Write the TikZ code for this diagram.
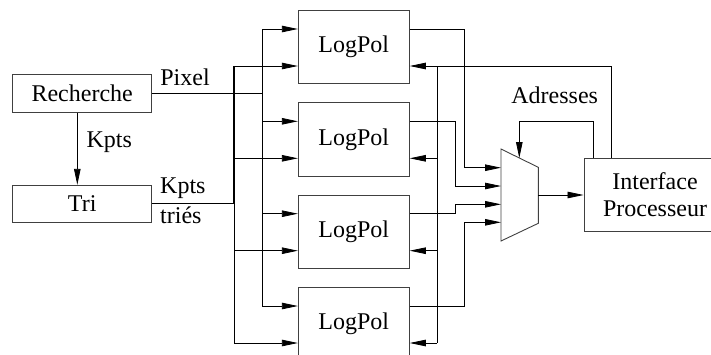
\documentclass[tikz,border=0pt]{standalone}
\usepackage{fontspec}
\setmainfont{Liberation Serif}
\usetikzlibrary{arrows.meta,calc}
\begin{document}
\begin{tikzpicture}[x=1pt,y=-1pt, font=\fontsize{24}{27}\selectfont,
  ln/.style={line width=0.8pt, draw=black},
  arr/.style={ln, -{Triangle[length=16pt,width=6.5pt]}},
  blk/.style={draw=black!75, line width=0.9pt, minimum width=111pt, minimum height=73.4pt, inner sep=0pt},
  sbox/.style={draw=black!75, line width=0.9pt, minimum width=139pt, inner sep=0pt},
  lbl/.style={inner sep=0pt}]
\useasboundingbox (0,0) rectangle (711,354);

% left blocks
\node[sbox, minimum height=37.7pt] (rech) at (82.2,93.2) {Recherche};
\node[sbox, minimum height=37pt] (tri) at (82.2,203.8) {Tri};

% LogPol blocks
\node[blk] (lp1) at (353.8,47) {LogPol};
\node[blk] (lp2) at (353.8,139.3) {LogPol};
\node[blk] (lp3) at (353.8,231.7) {LogPol};
\node[blk] (lp4) at (353.8,324) {LogPol};

% interface
\node[blk, minimum width=142pt, align=center] (ifc) at (655,195) {Interface\\Processeur};

% mux
\draw[draw=black!75, line width=0.9pt] (501,149) -- (538.3,167.3) -- (538.3,223.3) -- (501,241) -- cycle;
\coordinate (mi1) at (501,167.7);
\coordinate (mi2) at (501,186);
\coordinate (mi3) at (501,204.3);
\coordinate (mi4) at (501,222.3);
\coordinate (mo) at (538.3,195);
\coordinate (mt) at (519.3,158);

% ports
\foreach \i in {1,...,4}{
  \coordinate (lp\i-in1) at ($(lp\i.west)+(0,-18)$);
  \coordinate (lp\i-in2) at ($(lp\i.west)+(0,19)$);
  \coordinate (lp\i-out) at ($(lp\i.east)+(0,-18)$);
  \coordinate (lp\i-fb) at ($(lp\i.east)+(0,19)$);
}

% vertical rails
\coordinate (vA) at (262,0);
\coordinate (vB) at (234.3,0);
\coordinate (vC) at (437,0);
\coordinate (vD) at (464.5,0);
\coordinate (vE) at (455,0);
\coordinate (a1) at (611.7,0);
\coordinate (a2) at (593.3,0);
\coordinate (ay) at (0,121);

% Recherche -> Tri
\coordinate (k) at (77.3,0);
\draw[arr] (k |- rech.south) -- (k |- tri.north);

% Pixel bus
\draw[ln] (rech.east) -- (vA |- rech.east);
\draw[ln] (vA |- lp1-in1) -- (vA |- lp4-in1);
\foreach \i in {1,...,4}{
  \draw[arr] (vA |- lp\i-in1) -- (lp\i-in1);
}

% Kpts tries bus
\draw[ln] (tri.east) -- (vB |- tri.east);
\draw[line width=1.7pt] (vB |- lp1-in2) -- (vB |- tri.east);
\draw[ln] (vB |- tri.east) -- (vB |- lp4-in2);
\foreach \i in {1,...,4}{
  \draw[arr] (vB |- lp\i-in2) -- (lp\i-in2);
}

% feedback from interface
\draw[arr] (a1 |- ifc.north) -- (a1 |- lp1-fb) -- (lp1-fb);
\draw[ln] (vC |- lp1-fb) -- (vC |- lp4-fb);
\foreach \i in {2,3,4}{
  \draw[arr] (vC |- lp\i-fb) -- (lp\i-fb);
}

% outputs to mux
\draw[arr] (lp1-out) -- (vD |- lp1-out) -- (vD |- mi1) -- (mi1);
\draw[arr] (lp2-out) -- (vE |- lp2-out) -- (vE |- mi2) -- (mi2);
\draw[arr] (lp3-out) -- (vE |- lp3-out) -- (vE |- mi3) -- (mi3);
\draw[arr] (lp4-out) -- (vD |- lp4-out) -- (vD |- mi4) -- (mi4);

% mux to interface
\draw[arr] (mo) -- (ifc.west);

% adresses
\draw[arr] (a2 |- ifc.north) -- (a2 |- ay) -- (mt |- ay) -- (mt);

% labels
\node[lbl] (lpix) at (185,77) {Pixel};
\node[lbl] (lk1) at (109.2,141.7) {Kpts};
\node[lbl, anchor=west] (lk2) at (160,188.3) {Kpts};
\node[lbl, anchor=west] (ltr) at (160,215.7) {triés};
\node[lbl] (ladr) at (554.7,95.7) {Adresses};
\end{tikzpicture}
\end{document}
